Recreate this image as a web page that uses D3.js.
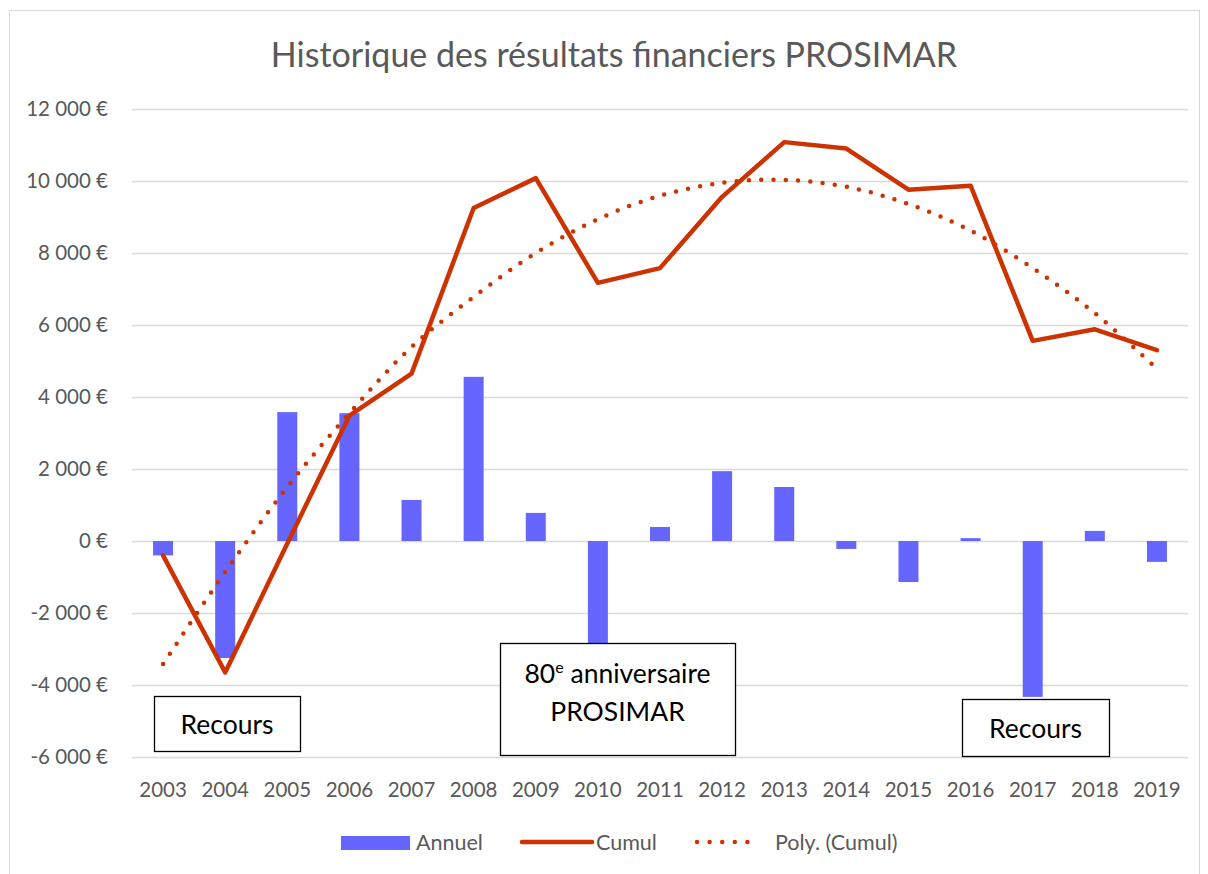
<!DOCTYPE html>
<html>
<head>
<meta charset="utf-8">
<script src="https://cdn.jsdelivr.net/npm/d3@7"></script>
<style>
  body { margin: 0; background: #fff; }
  svg { display: block; font-family: Lato, "Open Sans", sans-serif; }
</style>
</head>
<body>
<svg id="chart" width="1208" height="874"></svg>
<script>
// values
var years = ["2003","2004","2005","2006","2007","2008","2009","2010","2011","2012","2013","2014","2015","2016","2017","2018","2019"];
var annuel = [-400, -3250, 3580, 3550, 1140, 4560, 780, -2900, 390, 1940, 1500, -220, -1140, 80, -4330, 280, -580];
var cumul = [-400, -3650, -70, 3480, 4650, 9250, 10080, 7170, 7580, 9560, 11080, 10900, 9760, 9870, 5560, 5880, 5300];
var poly = [-3420, -860, 1500, 3550, 5390, 6780, 8000, 8940, 9590, 9950, 10030, 9840, 9360, 8620, 7580, 6330, 4780];
var yTicks = [-6000, -4000, -2000, 0, 2000, 4000, 6000, 8000, 10000, 12000];
var notes = [
  {year: "2003", lines: ["Recours"]},
  {year: "2010", lines: ["80e anniversaire", "PROSIMAR"]},
  {year: "2017", lines: ["Recours"]}
];

var barColor = "#6666FF";
var lineColor = "#CC3300";
var textColor = "#595959";

var svg = d3.select("#chart");

// chart frame
svg.append("rect")
  .attr("x", 9.5).attr("y", 10.5)
  .attr("width", 1190).attr("height", 880)
  .attr("fill", "none").attr("stroke", "#D9D9D9");

var x = d3.scaleBand().domain(years).range([132, 1188]).padding(0);
var y = d3.scaleLinear().domain([-6000, 12000]).range([757, 109]);

var fr = d3.formatLocale({decimal: ",", thousands: "\u00a0", grouping: [3], currency: ["", " €"], minus: "-"});
var fmt = fr.format("$,.0f");

// title
svg.append("text")
  .attr("x", 614).attr("y", 67)
  .attr("text-anchor", "middle")
  .attr("font-size", 34)
  .attr("fill", textColor)
  .text("Historique des résultats financiers PROSIMAR");

// grid
svg.append("g").selectAll("line").data(yTicks).enter().append("line")
  .attr("x1", 132).attr("x2", 1188)
  .attr("y1", function(d){ return Math.round(y(d)) + 0.5; })
  .attr("y2", function(d){ return Math.round(y(d)) + 0.5; })
  .attr("stroke", "#D9D9D9").attr("stroke-width", 1.5);

// y labels
svg.append("g").selectAll("text").data(yTicks).enter().append("text")
  .attr("x", 108)
  .attr("y", function(d){ return y(d) + 7; })
  .attr("text-anchor", "end")
  .attr("font-size", 20.5)
  .attr("fill", textColor)
  .text(function(d){ return fmt(d); });

// x labels
svg.append("g").selectAll("text").data(years).enter().append("text")
  .attr("x", function(d){ return x(d) + x.bandwidth() / 2; })
  .attr("y", 797)
  .attr("text-anchor", "middle")
  .attr("font-size", 20.5)
  .attr("fill", textColor)
  .text(function(d){ return d; });

// bars
var barW = 20;
svg.append("g").selectAll("rect").data(annuel).enter().append("rect")
  .attr("x", function(d, i){ return x(years[i]) + x.bandwidth() / 2 - barW / 2; })
  .attr("y", function(d){ return y(Math.max(0, d)); })
  .attr("width", barW)
  .attr("height", function(d){ return Math.abs(y(d) - y(0)); })
  .attr("fill", barColor);

var cx = function(d, i){ return x(years[i]) + x.bandwidth() / 2; };

// cumul line
svg.append("path")
  .datum(cumul)
  .attr("d", d3.line().x(cx).y(function(d){ return y(d); }))
  .attr("fill", "none")
  .attr("stroke", lineColor)
  .attr("stroke-width", 4.5)
  .attr("stroke-linejoin", "round")
  .attr("stroke-linecap", "round");

// polynomial trend (dotted)
svg.append("path")
  .datum(poly)
  .attr("d", d3.line().x(cx).y(function(d){ return y(d); }).curve(d3.curveCatmullRom))
  .attr("fill", "none")
  .attr("stroke", lineColor)
  .attr("stroke-width", 4.5)
  .attr("stroke-dasharray", "0 12.3")
  .attr("stroke-linecap", "round");

// annotation boxes
var boxes = [
  {x: 154, y: 696, w: 146, h: 55},
  {x: 500, y: 643, w: 235, h: 112},
  {x: 962, y: 699, w: 147, h: 57}
];
notes.forEach(function(n, i){
  var b = boxes[i];
  var g = svg.append("g");
  g.append("rect")
    .attr("x", b.x + 0.5).attr("y", b.y + 0.5)
    .attr("width", b.w).attr("height", b.h)
    .attr("fill", "#fff").attr("stroke", "#000").attr("stroke-width", 1.3);
  var t = g.append("text")
    .attr("text-anchor", "middle")
    .attr("font-size", 26.5)
    .attr("fill", "#000");
  if (n.lines.length == 1){
    t.attr("x", b.x + b.w / 2).attr("y", b.y + b.h / 2 + 10).text(n.lines[0]);
  } else {
    var l1 = t.append("tspan").attr("x", b.x + b.w / 2).attr("y", b.y + 40);
    l1.append("tspan").text("80");
    l1.append("tspan").attr("font-size", 16).attr("dy", -10).text("e");
    l1.append("tspan").attr("dy", 10).text(" anniversaire");
    t.append("tspan").attr("x", b.x + b.w / 2).attr("y", b.y + 78).text(n.lines[1]);
  }
});

// legend
var leg = svg.append("g").attr("font-size", 21.5).attr("fill", textColor);
leg.append("rect").attr("x", 341).attr("y", 836).attr("width", 69).attr("height", 14).attr("fill", barColor);
leg.append("text").attr("x", 416).attr("y", 850).text("Annuel");
leg.append("line").attr("x1", 522).attr("x2", 592).attr("y1", 842).attr("y2", 842)
  .attr("stroke", lineColor).attr("stroke-width", 4.5).attr("stroke-linecap", "round");
leg.append("text").attr("x", 596).attr("y", 850).text("Cumul");
leg.append("line").attr("x1", 697).attr("x2", 760).attr("y1", 842).attr("y2", 842)
  .attr("stroke", lineColor).attr("stroke-width", 4.5).attr("stroke-linecap", "round")
  .attr("stroke-dasharray", "0 12.6");
leg.append("text").attr("x", 775).attr("y", 850).text("Poly. (Cumul)");
</script>
</body>
</html>
